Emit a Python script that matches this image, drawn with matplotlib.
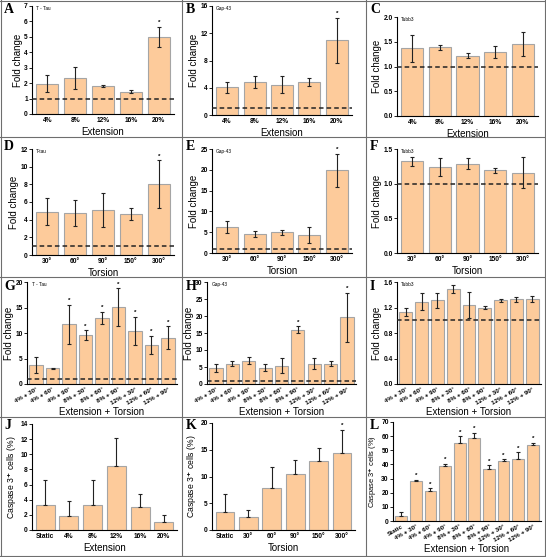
import numpy as np
import matplotlib
matplotlib.use("Agg")
import matplotlib.pyplot as plt
from matplotlib.lines import Line2D

plt.rcParams['font.family'] = ['Liberation Sans', 'DejaVu Sans']
plt.rcParams['font.weight'] = 'bold'

W, H = 546, 557
BAR = '#FDCB9B'
EDGE = '#A5A5A5'

# ---- data ----
ext_cats = ['4%', '8%', '12%', '16%', '20%']
tor_cats = ['30°', '60°', '90°', '150°', '300°']
comb_cats = ['4% + 30°', '4% + 60°', '4% + 90°', '8% + 30°', '8% + 60°',
             '8% + 90°', '12% + 30°', '12% + 60°', '12% + 90°']
ext_cats_s = ['Static'] + ext_cats
tor_cats_s = ['Static'] + tor_cats
comb_cats_s = ['Static'] + comb_cats

a_val = [1.95, 2.35, 1.8, 1.45, 5.0]
a_err = [0.55, 0.7, 0.05, 0.12, 0.65]
b_val = [4.1, 4.8, 4.45, 4.85, 11.0]
b_err = [0.8, 0.9, 1.25, 0.6, 3.3]
c_val = [1.37, 1.39, 1.22, 1.29, 1.45]
c_err = [0.27, 0.05, 0.05, 0.12, 0.24]

d_val = [4.9, 4.75, 5.1, 4.65, 8.0]
d_err = [1.5, 1.5, 1.9, 0.7, 2.7]
e_val = [6.3, 4.5, 5.0, 4.3, 19.9]
e_err = [1.5, 0.7, 0.6, 2.0, 4.0]
f_val = [1.32, 1.24, 1.29, 1.19, 1.16]
f_err = [0.06, 0.13, 0.08, 0.04, 0.22]

g_val = [3.7, 3.1, 11.7, 9.6, 13.0, 15.1, 10.4, 7.7, 9.1]
g_err = [1.5, 0.1, 3.8, 0.9, 1.2, 3.7, 2.8, 1.8, 2.2]
h_val = [4.7, 6.0, 6.9, 4.8, 5.4, 16.0, 6.0, 6.0, 19.6]
h_err = [1.1, 0.8, 1.1, 1.1, 2.2, 1.0, 1.7, 0.8, 7.2]
i_val = [1.13, 1.29, 1.31, 1.49, 1.24, 1.20, 1.31, 1.33, 1.33]
i_err = [0.07, 0.13, 0.12, 0.07, 0.20, 0.03, 0.02, 0.04, 0.05]

j_val = [3.3, 1.9, 3.3, 8.4, 3.1, 1.0]
j_err = [3.35, 1.95, 3.35, 3.7, 1.7, 0.95]
k_val = [3.3, 2.4, 7.9, 10.5, 12.9, 14.4]
k_err = [3.35, 1.3, 3.9, 2.6, 2.5, 4.3]
l_val = [3.2, 28, 21.5, 39, 55.5, 58.5, 37, 42.5, 44, 54]
l_err = [3.2, 1.3, 1.5, 1.5, 4.5, 4.0, 2.5, 1.0, 4.5, 1.5]

fig = plt.figure(figsize=(W / 100, H / 100), dpi=100)


def box(l, t, r, b):
    return [l / W, 1 - b / H, (r - l) / W, (b - t) / H]


def panel(pos, cats, vals, errs, yticks, xlabel, ylabel='Fold change',
          gene=None, stars=(), dashed=True, upper_only=False, rot=False,
          ylsize=7):
    ax = fig.add_axes(box(*pos))
    x = np.arange(len(cats))
    ax.bar(x, vals, width=0.8, color=BAR, edgecolor=EDGE, linewidth=0.8, zorder=2)
    e = np.array(errs)
    yerr = [np.zeros_like(e), e] if upper_only else e
    ax.errorbar(x, vals, yerr=yerr, fmt='none', ecolor='#222222',
                elinewidth=0.8, capsize=1.3, capthick=0.8, zorder=3)
    if dashed:
        ax.axhline(1, color='#222222', lw=1.1, ls=(0, (3, 2)), zorder=4)
    ymax = yticks[-1]
    for s in stars:
        ax.text(x[s], vals[s] + errs[s] + ymax * 0.015, '*', ha='center',
                va='bottom', fontsize=4.5)
    ax.set_xlim(-0.55, len(cats) - 0.45)
    ax.set_ylim(0, ymax)
    ax.set_yticks(yticks)
    ax.set_yticklabels([('%g' % t) if isinstance(t, int) else ('%.1f' % t) for t in yticks],
                       fontsize=4.8)
    ax.set_xticks(x)
    if rot:
        ax.set_xticklabels(cats, fontsize=4.5, rotation=30, ha='right',
                           rotation_mode='anchor')
    else:
        ax.set_xticklabels(cats, fontsize=4.8)
    ax.tick_params(axis='y', length=2, width=0.6, pad=1)
    ax.tick_params(axis='x', length=0, pad=2)
    for sp in ['top', 'right']:
        ax.spines[sp].set_visible(False)
    for sp in ['left', 'bottom']:
        ax.spines[sp].set_linewidth(0.8)
    ax.set_ylabel(ylabel, fontsize=ylsize, labelpad=1)
    ax.set_xlabel(xlabel, fontsize=7, labelpad=1 if rot else 2)
    if gene:
        ax.text(0.03, 1.0, gene, transform=ax.transAxes, fontsize=3.4,
                fontweight='normal', va='top', ha='left')
    return ax


panel((32, 6, 174, 114), ext_cats, a_val, a_err, list(range(0, 8)),
      'Extension', gene='T - Tau', stars=[4])
panel((212, 6, 352, 115), ext_cats, b_val, b_err, [0, 4, 8, 12, 16],
      'Extension', gene='Gap-43', stars=[4])
panel((397, 17, 538, 116), ext_cats, c_val, c_err, [0.0, 0.5, 1.0, 1.5, 2.0],
      'Extension', gene='Tubb3')

panel((32, 149, 174, 255), tor_cats, d_val, d_err, [0, 2, 4, 6, 8, 10, 12],
      'Torsion', gene='T-tau', stars=[4])
panel((212, 149, 352, 253), tor_cats, e_val, e_err, [0, 5, 10, 15, 20, 25],
      'Torsion', gene='Gap-43', stars=[4])
panel((397, 149, 538, 253), tor_cats, f_val, f_err, [0.0, 0.5, 1.0, 1.5],
      'Torsion', gene='Tubb3')

panel((27, 282, 177, 384), comb_cats, g_val, g_err, [0, 5, 10, 15, 20],
      'Extension + Torsion', gene='T - Tau', stars=[2, 3, 4, 5, 6, 7, 8], rot=True)
panel((207, 282, 356, 384), comb_cats, h_val, h_err, [0, 5, 10, 15, 20, 25, 30],
      'Extension + Torsion', gene='Gap-43', stars=[5, 8], rot=True)
panel((397, 282, 541, 384), comb_cats, i_val, i_err, [0.0, 0.4, 0.8, 1.2, 1.6],
      'Extension + Torsion', gene='Tubb3', rot=True)

cas = 'Caspase 3$^{+}$ cells (%)'
panel((32, 424, 177, 530), ext_cats_s, j_val, j_err, list(range(0, 15, 2)),
      'Extension', ylabel=cas, dashed=False, upper_only=True, ylsize=6.2)
panel((212, 423, 355, 530), tor_cats_s, k_val, k_err, [0, 5, 10, 15, 20],
      'Torsion', ylabel=cas, dashed=False, upper_only=True, stars=[5], ylsize=6.2)
panel((393, 422, 541, 521), comb_cats_s, l_val, l_err, list(range(0, 71, 10)),
      'Extension + Torsion', ylabel=cas, dashed=False, upper_only=True,
      stars=list(range(1, 10)), rot=True, ylsize=5.4)

# panel letters
letters = [('A', 4, 3), ('B', 186, 3), ('C', 370, 3),
           ('D', 4, 140), ('E', 186, 140), ('F', 370, 140),
           ('G', 4, 280), ('H', 186, 280), ('I', 370, 280),
           ('J', 4, 419), ('K', 186, 419), ('L', 370, 419)]
for ch, px, py in letters:
    fig.text(px / W, 1 - py / H, ch, family='Liberation Serif', fontweight='bold',
             fontsize=10, va='top', ha='left')

# cell borders
gc = '#6E6E6E'
for xv in [1, 182, 366, 545]:
    fig.add_artist(Line2D([xv / W, xv / W], [0, 1], color=gc, lw=0.8))
for yv in [1, 137, 277, 417, 556]:
    fig.add_artist(Line2D([0, 1], [1 - yv / H, 1 - yv / H], color=gc, lw=0.8))

fig.savefig('out.png', dpi=100)
